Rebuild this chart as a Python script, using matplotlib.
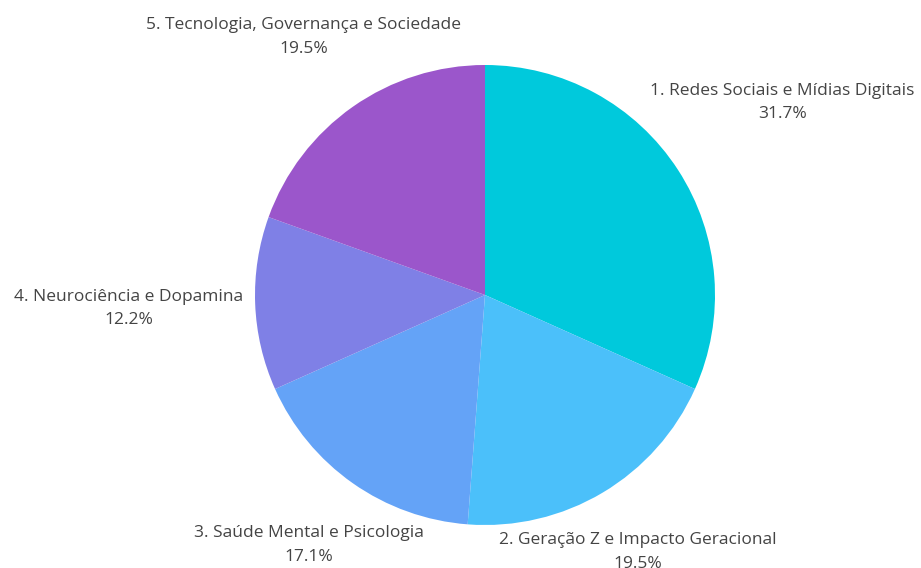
import numpy as np
import matplotlib.pyplot as plt

plt.rcParams['font.family'] = ['Open Sans', 'DejaVu Sans']

categories = ['1. Redes Sociais e Mídias Digitais',
              '2. Geração Z e Impacto Geracional',
              '3. Saúde Mental e Psicologia',
              '4. Neurociência e Dopamina',
              '5. Tecnologia, Governança e Sociedade']
values = [31.7, 19.5, 17.1, 12.2, 19.5]
colors = ['#00C9DC', '#4BC0FA', '#64A3F7', '#7F80E6', '#9B56CB']

fig = plt.figure(figsize=(9.21, 5.68), dpi=100)
ax = fig.add_axes([0, 0, 1, 1])

# pie radius 1 -> 230 px, centre at (485, 295) px from top-left
R = 230.0

wedges, _ = ax.pie(values, colors=colors, startangle=90, counterclock=False,
                   radius=1.0, center=(0, 0), frame=True,
                   wedgeprops=dict(linewidth=0))
ax.set_xlim(-485 / R, (921 - 485) / R)
ax.set_ylim(-(568 - 295) / R, 295 / R)
ax.set_aspect('equal')
ax.axis('off')

# labels sit on the slice's mid-angle, outside the pie
label_dist = [1.54, 1.30, 1.33, 1.55, 1.37]

for w, name, v, d in zip(wedges, categories, values, label_dist):
    mid = np.deg2rad((w.theta1 + w.theta2) / 2)
    ax.text(d * np.cos(mid), d * np.sin(mid), f'{name}\n{v:.1f}%',
            ha='center', va='center', fontsize=12.5, color='#444444',
            linespacing=1.65)

fig.savefig('out.png', dpi=100, facecolor='white')
